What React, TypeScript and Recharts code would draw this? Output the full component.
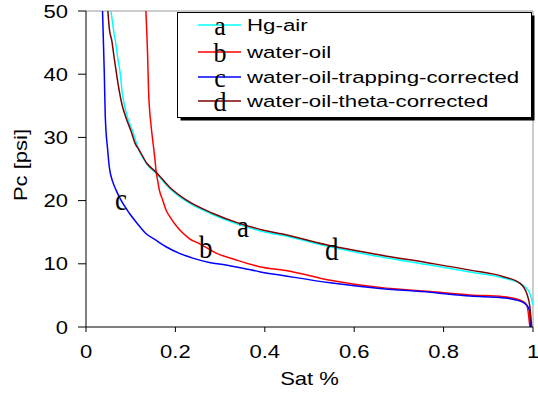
import { LineChart, Line, XAxis, YAxis, ReferenceLine, ReferenceDot, Legend, Label } from 'recharts'

// saturation (x) and capillary pressure (y)
const HG_SAT = [0.056, 0.061, 0.067, 0.071, 0.077, 0.0805, 0.0857, 0.093, 0.1044, 0.112, 0.119, 0.136, 0.157, 0.186, 0.224, 0.283, 0.343, 0.395, 0.447, 0.538, 0.658, 0.77, 0.859, 0.934, 0.978, 0.993, 1.0]
const HG_PC = [50, 47.3, 44.7, 42.6, 39.9, 37.3, 35.2, 33.1, 31.0, 29.3, 27.9, 25.8, 24.3, 22.0, 19.9, 17.8, 16.2, 15.1, 14.4, 12.8, 11.1, 9.8, 8.7, 7.75, 6.6, 5.3, 3.5]

const WO_SAT = [0.134, 0.138, 0.14, 0.1454, 0.1514, 0.1544, 0.1566, 0.16, 0.164, 0.1715, 0.179, 0.19, 0.201, 0.216, 0.231, 0.2535, 0.291, 0.336, 0.388, 0.447, 0.546, 0.658, 0.77, 0.859, 0.934, 0.971, 0.986, 0.993]
const WO_PC = [50, 42.6, 37.3, 32, 28.3, 26.4, 24.8, 23.3, 21.7, 20.1, 18.5, 17.2, 16.1, 14.9, 14.0, 13.2, 11.7, 10.6, 9.55, 8.95, 7.4, 6.27, 5.6, 5.06, 4.8, 4.27, 3.5, 0]

const TRAP_SAT = [0.037, 0.041, 0.043, 0.0485, 0.052, 0.0597, 0.067, 0.078, 0.097, 0.1156, 0.134, 0.157, 0.179, 0.209, 0.239, 0.276, 0.313, 0.351, 0.388, 0.447, 0.546, 0.658, 0.77, 0.859, 0.934, 0.971, 0.985, 0.992, 0.995]
const TRAP_PC = [50, 40, 33.6, 28.0, 25.4, 23.0, 21.7, 20.1, 18.0, 16.3, 14.8, 13.7, 12.7, 11.65, 10.9, 10.2, 9.8, 9.3, 8.75, 8.07, 7.0, 6.1, 5.5, 4.9, 4.6, 4.1, 3.5, 2.7, 0]

const THETA_SAT = [0.049, 0.052, 0.058, 0.063, 0.0686, 0.0746, 0.0805, 0.0895, 0.1007, 0.1096, 0.119, 0.136, 0.157, 0.186, 0.224, 0.283, 0.343, 0.395, 0.44, 0.538, 0.658, 0.77, 0.859, 0.934, 0.971, 0.986, 0.993, 0.997]
const THETA_PC = [50, 47.3, 45.2, 42.6, 39.9, 37.3, 35.2, 33.1, 31.0, 29.1, 28.0, 25.9, 24.5, 22.2, 20.1, 18.0, 16.4, 15.35, 14.7, 13.0, 11.4, 10.1, 9.0, 7.96, 6.9, 5.3, 3.2, 0]

const SERIES_NAMES = ['Hg-air', 'water-oil', 'water-oil-trapping-corrected', 'water-oil-theta-corrected']
const SERIES_LETTERS = ['a', 'b', 'c', 'd']
const SERIES_COLORS = ['#00ffff', '#ff0000', '#0000ff', '#800000']

// where the letter tags sit on the curves
const TAG_SAT = [0.351, 0.268, 0.078, 0.55]
const TAG_PC = [14.2, 10.9, 18.5, 10.6]

const X_TICKS = [0, 0.2, 0.4, 0.6, 0.8, 1]
const Y_TICKS = [0, 10, 20, 30, 40, 50]

const zip = (sat: number[], pc: number[]) => sat.map((s, i) => ({ sat: s, pc: pc[i] }))
const SERIES_DATA = [zip(HG_SAT, HG_PC), zip(WO_SAT, WO_PC), zip(TRAP_SAT, TRAP_PC), zip(THETA_SAT, THETA_PC)]

const SANS = '"Liberation Sans", Arial, sans-serif'
const SERIF = '"Liberation Serif", "Times New Roman", serif'

function XTick({ x, y, payload }: any) {
  return (
    <g transform={`translate(${x},${y + 24}) scale(1.19,1)`}>
      <text textAnchor="middle" fontFamily={SANS} fontSize={18.5} fill="#000">{payload.value}</text>
    </g>
  )
}

function YTick({ x, y, payload }: any) {
  return (
    <g transform={`translate(${x - 8},${y + 6.5}) scale(1.19,1)`}>
      <text textAnchor="end" fontFamily={SANS} fontSize={18.5} fill="#000">{payload.value}</text>
    </g>
  )
}

function Tag({ cx, cy, letter }: any) {
  return (
    <g transform={`translate(${cx},${cy}) scale(1,1.15)`}>
      <text textAnchor="middle" fontFamily={SERIF} fontSize={27} fill="#000">{letter}</text>
    </g>
  )
}

function LegendBox() {
  const rowY = [13, 40, 65, 89]
  return (
    <svg width={360} height={112} style={{ display: 'block' }}>
      <rect x={3.5} y={3.5} width={354} height={105} fill="#000" />
      <rect x={0.5} y={0.5} width={354} height={105} fill="#fff" stroke="#000" />
      {SERIES_NAMES.map((name, i) => (
        <g key={name}>
          <line x1={21} x2={64} y1={rowY[i]} y2={rowY[i]} stroke={SERIES_COLORS[i]} strokeWidth={1.5} />
          <g transform={`translate(43,${rowY[i] + 10}) scale(1,1.05)`}>
            <text textAnchor="middle" fontFamily={SERIF} fontSize={26} fill="#000">{SERIES_LETTERS[i]}</text>
          </g>
          <g transform={`translate(70,${rowY[i] + 6}) scale(1.35,1)`}>
            <text fontFamily={SANS} fontSize={16.5} fill="#000">{name}</text>
          </g>
        </g>
      ))}
    </svg>
  )
}

export default function App() {
  return (
    <div style={{ position: 'absolute', left: 0, top: 0, background: '#fff' }}>
      <LineChart width={538} height={394} margin={{ top: 11, right: 5, left: 0, bottom: 0 }}>
        <XAxis
          type="number"
          dataKey="sat"
          domain={[0, 1]}
          ticks={X_TICKS}
          allowDataOverflow
          height={67}
          stroke="#000"
          tickSize={5}
          tick={<XTick />}
        >
          <Label
            content={({ viewBox }: any) => (
              <g transform={`translate(${viewBox.x + viewBox.width / 2},${viewBox.y + 58}) scale(1.19,1)`}>
                <text textAnchor="middle" fontFamily={SANS} fontSize={18.5} fill="#000">Sat %</text>
              </g>
            )}
          />
        </XAxis>
        <YAxis
          type="number"
          dataKey="pc"
          domain={[0, 50]}
          ticks={Y_TICKS}
          allowDataOverflow
          width={86}
          stroke="#000"
          tickSize={8}
          tick={<YTick />}
        >
          <Label
            content={({ viewBox }: any) => (
              <g transform={`translate(${viewBox.x + 27},${viewBox.y + viewBox.height / 2 - 4}) rotate(-90) scale(1.19,1)`}>
                <text textAnchor="middle" fontFamily={SANS} fontSize={18.5} fill="#000">Pc [psi]</text>
              </g>
            )}
          />
        </YAxis>
        <ReferenceLine y={50} stroke="#999" strokeWidth={1} />
        <ReferenceLine x={1} stroke="#999" strokeWidth={1} />
        {SERIES_NAMES.map((name, i) => (
          <Line
            key={name}
            data={SERIES_DATA[i]}
            dataKey="pc"
            name={name}
            type="monotone"
            stroke={SERIES_COLORS[i]}
            strokeWidth={1.5}
            dot={false}
            isAnimationActive={false}
          />
        ))}
        {SERIES_LETTERS.map((letter, i) => (
          <ReferenceDot
            key={letter}
            x={TAG_SAT[i]}
            y={TAG_PC[i]}
            r={0}
            shape={(props: any) => <Tag {...props} letter={letter} />}
          />
        ))}
        <Legend
          layout="horizontal"
          verticalAlign="middle"
          align="center"
          wrapperStyle={{ left: 177, top: 12, width: 360, height: 112 }}
          content={() => <LegendBox />}
        />
      </LineChart>
    </div>
  )
}
